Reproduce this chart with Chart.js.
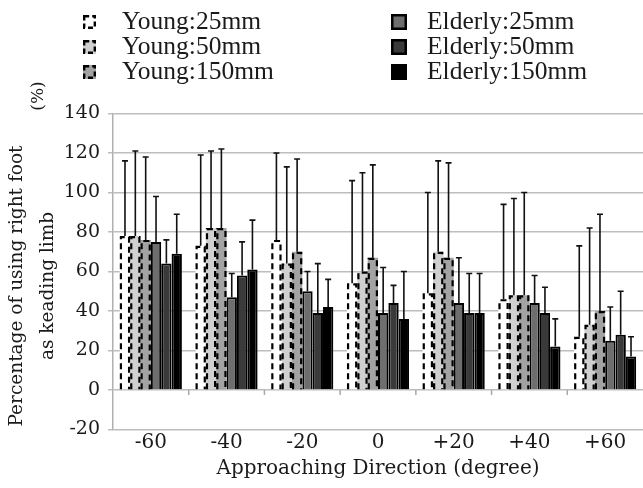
<!DOCTYPE html>
<html>
<head>
<meta charset="utf-8">
<script src="https://cdn.jsdelivr.net/npm/chart.js@4/dist/chart.umd.min.js"></script>
<style>
  html, body { margin: 0; padding: 0; background: #fff; }
  #wrap { width: 643px; height: 488px; }
</style>
</head>
<body>
<div id="wrap"><canvas id="dir-chart" width="643" height="488"></canvas></div>
<script>
const categories = ["-60", "-40", "-20", "0", "+20", "+40", "+60"];
const seriesNames = ["Young:25mm", "Young:50mm", "Young:150mm", "Elderly:25mm", "Elderly:50mm", "Elderly:150mm"];

// means, errors = top of whisker minus mean
const young25 = [78, 73, 76, 54, 49, 46, 27];
const young50 = [78, 82, 64, 60, 70, 48, 33];
const young150 = [76, 82, 70, 67, 67, 48, 40];
const elderly25 = [75, 47, 50, 39, 44, 44, 25];
const elderly50 = [64, 58, 39, 44, 39, 39, 28];
const elderly150 = [69, 61, 42, 36, 39, 22, 17];

const young25Err = [38, 46, 44, 52, 51, 48, 46];
const young50Err = [43, 39, 49, 50, 46, 49, 49];
const young150Err = [42, 40, 47, 47, 48, 52, 49];
const elderly25Err = [23, 12, 10, 23, 23, 14, 17];
const elderly50Err = [12, 17, 25, 9, 20, 13, 22];
const elderly150Err = [20, 25, 14, 24, 20, 14, 10];

const yTicks = [-20, 0, 20, 40, 60, 80, 100, 120, 140];

const fills = ["#ffffff", "#d0d0d0", "#a3a3a3", "#6e6e6e", "#3a3a3a", "#000000"];
const dashed = [true, true, true, false, false, false];
const values = [young25, young50, young150, elderly25, elderly50, elderly150];
const errors = [young25Err, young50Err, young150Err, elderly25Err, elderly50Err, elderly150Err];

const axisFont = "DejaVu Serif";
const legendFont = "Liberation Serif";

const extras = {
  id: "extras",
  afterDatasetsDraw(chart) {
    const ctx = chart.ctx;
    const ys = chart.scales.y;
    const xs = chart.scales.x;
    const y0 = ys.getPixelForValue(0);

    // small category ticks on the zero line
    ctx.save();
    ctx.strokeStyle = "#a8a8a8";
    ctx.lineWidth = 1.5;
    for (let i = 1; i < categories.length; i++) {
      const bx = (xs.getPixelForValue(i - 1) + xs.getPixelForValue(i)) / 2;
      ctx.beginPath();
      ctx.moveTo(bx, y0);
      ctx.lineTo(bx, y0 + 5);
      ctx.stroke();
    }
    ctx.restore();

    // dashed outline for the young groups
    chart.data.datasets.forEach((ds, i) => {
      if (!dashed[i]) return;
      const meta = chart.getDatasetMeta(i);
      meta.data.forEach((el) => {
        const p = el.getProps(["x", "y", "base", "width"], true);
        const l = p.x - p.width / 2, r = p.x + p.width / 2;
        ctx.save();
        ctx.strokeStyle = "#000";
        ctx.lineWidth = 2.2;
        ctx.setLineDash([6, 4]);
        ctx.beginPath();
        ctx.moveTo(l + 1.1, p.base);
        ctx.lineTo(l + 1.1, p.y + 1.1);
        ctx.lineTo(r - 1.1, p.y + 1.1);
        ctx.lineTo(r - 1.1, p.base);
        ctx.stroke();
        ctx.restore();
      });
    });

    // error bars, upper half only
    chart.data.datasets.forEach((ds, i) => {
      const meta = chart.getDatasetMeta(i);
      meta.data.forEach((el, j) => {
        const p = el.getProps(["x", "y"], true);
        const top = ys.getPixelForValue(values[i][j] + errors[i][j]);
        ctx.save();
        ctx.strokeStyle = "#111";
        ctx.lineWidth = 1.6;
        ctx.beginPath();
        ctx.moveTo(p.x, p.y);
        ctx.lineTo(p.x, top);
        ctx.moveTo(p.x - 3, top);
        ctx.lineTo(p.x + 3, top);
        ctx.stroke();
        ctx.restore();
      });
    });
  },
  afterDraw(chart) {
    const ctx = chart.ctx;
    ctx.save();
    ctx.fillStyle = "#1a1a1a";
    ctx.textBaseline = "middle";
    ctx.textAlign = "center";

    // y axis title, two lines + unit
    ctx.font = "18.5px '" + axisFont + "'";
    const lines = ["Percentage of using right foot", "as keading limb"];
    const lx = [17, 48];
    lines.forEach((t, k) => {
      ctx.save();
      ctx.translate(lx[k], 286);
      ctx.rotate(-Math.PI / 2);
      ctx.fillText(t, 0, 0);
      ctx.restore();
    });
    ctx.save();
    ctx.font = "17px '" + axisFont + "'";
    ctx.translate(39, 96);
    ctx.rotate(-Math.PI / 2);
    ctx.fillText("(%)", 0, 0);
    ctx.restore();

    // legend in two columns
    ctx.font = "25.5px '" + legendFont + "'";
    ctx.textAlign = "left";
    const rows = [22, 47, 72];
    seriesNames.forEach((name, i) => {
      const col = i < 3 ? 0 : 1;
      const cy = rows[i % 3];
      const mx = col === 0 ? 83 : 391;
      const tx = col === 0 ? 122 : 427;
      if (dashed[i]) {
        ctx.fillStyle = fills[i];
        ctx.fillRect(mx, cy - 7, 13, 14);
        ctx.save();
        ctx.strokeStyle = "#000";
        ctx.lineWidth = 2.4;
        ctx.setLineDash([5, 3]);
        ctx.strokeRect(mx + 1.2, cy - 5.8, 10.6, 11.6);
        ctx.restore();
      } else {
        ctx.fillStyle = fills[i];
        ctx.fillRect(mx, cy - 8, 16, 16);
        ctx.strokeStyle = "#000";
        ctx.lineWidth = 2.5;
        ctx.strokeRect(mx + 1.25, cy - 6.75, 13.5, 13.5);
      }
      ctx.fillStyle = "#1a1a1a";
      ctx.fillText(name, tx, cy);
    });
    ctx.restore();
  }
};

new Chart(document.getElementById("dir-chart"), {
  type: "bar",
  data: {
    labels: categories,
    datasets: seriesNames.map((name, i) => ({
      label: name,
      data: values[i],
      backgroundColor: fills[i],
      borderColor: "#000",
      borderWidth: dashed[i] ? 0 : 2,
      borderSkipped: "bottom",
    })),
  },
  options: {
    responsive: false,
    animation: false,
    layout: { padding: { top: 113.5, right: -6, left: 0, bottom: 0 } },
    categoryPercentage: 0.82,
    barPercentage: 1.0,
    plugins: {
      legend: { display: false },
      tooltip: { enabled: false },
    },
    scales: {
      x: {
        grid: { display: false, drawTicks: false, tickLength: 0 },
        border: { display: false },
        ticks: { color: "#1a1a1a", font: { family: axisFont, size: 20 }, padding: 1, maxRotation: 0 },
        title: {
          display: true,
          text: "Approaching Direction (degree)",
          color: "#1a1a1a",
          font: { family: axisFont, size: 20 },
          padding: { top: 0, bottom: 7 },
        },
        afterFit(scale) { scale.height = 58.5; },
      },
      y: {
        min: -20,
        max: 140,
        afterBuildTicks(scale) { scale.ticks = yTicks.map(v => ({ value: v })); },
        grid: { color: "#bdbdbd", lineWidth: 1.5, tickLength: 5 },
        border: { color: "#b0b0b0", width: 1.5 },
        ticks: { color: "#1a1a1a", font: { family: axisFont, size: 19 }, padding: 8 },
        afterFit(scale) { scale.width = 113; },
      },
    },
  },
  plugins: [extras],
});
</script>
</body>
</html>
